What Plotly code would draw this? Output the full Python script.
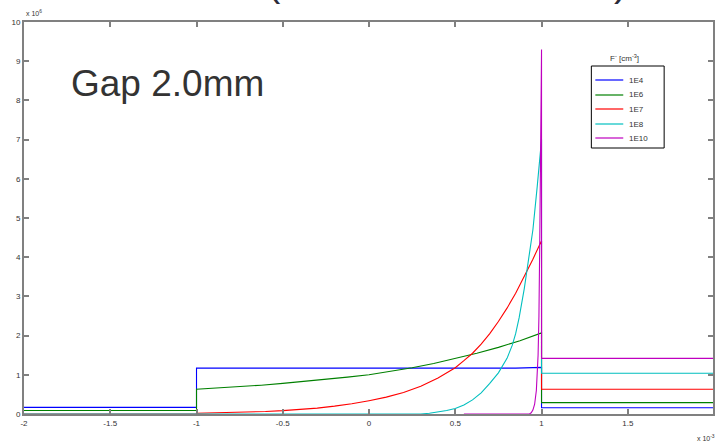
import plotly.graph_objects as go

# x in units of 1e-3, y in units of 1e6
blue_x = [-2, -1, -1, 0.85, 1, 1, 2]
blue_y = [0.17, 0.17, 1.17, 1.17, 1.19, 0.16, 0.16]

green_x = [-2, -1, -1, -0.875, -0.75, -0.625, -0.5, -0.375, -0.25, -0.125, 0, 0.125, 0.25,
           0.375, 0.5, 0.625, 0.75, 0.875, 1, 1, 2]
green_y = [0.09, 0.09, 0.63, 0.66, 0.69, 0.735, 0.78, 0.83, 0.88, 0.94, 1.0, 1.085, 1.18,
           1.29, 1.42, 1.55, 1.7, 1.87, 2.07, 0.29, 0.29]

red_x = [-2, -1, -1, -0.9, -0.8, -0.7, -0.6, -0.5, -0.4, -0.3, -0.2, -0.1, 0, 0.1, 0.2, 0.3,
         0.4, 0.5, 0.55, 0.6, 0.65, 0.7, 0.75, 0.8, 0.85, 0.9, 0.95, 1, 1, 2]
red_y = [0.0, 0.0, 0.02, 0.027, 0.036, 0.048, 0.064, 0.085, 0.11, 0.15, 0.2, 0.26, 0.34, 0.43,
         0.55, 0.71, 0.92, 1.18, 1.36, 1.55, 1.78, 2.05, 2.36, 2.7, 3.08, 3.5, 3.95, 4.42, 0.63, 0.63]

cyan_x = [-2, 0.3, 0.35, 0.4, 0.45, 0.5, 0.55, 0.6, 0.65, 0.7, 0.75, 0.8, 0.83, 0.85, 0.87,
          0.9, 0.925, 0.95, 0.975, 1.0, 1.0, 2.0]
cyan_y = [0, 0, 0.02, 0.05, 0.09, 0.14, 0.23, 0.36, 0.54, 0.78, 1.05, 1.42, 1.75, 2.05, 2.45,
          3.2, 3.9, 4.7, 5.8, 7.0, 1.04, 1.04]

mag_x = [0.55, 0.93, 0.94, 0.95, 0.96, 0.97, 0.98, 0.985, 0.99, 0.995, 1.0, 1.0, 2.0]
mag_y = [0, 0, 0.03, 0.1, 0.25, 0.6, 1.5, 2.5, 4.5, 8.2, 9.3, 1.42, 1.42]

names = ["1E4", "1E6", "1E7", "1E8", "1E10"]
colors = ["#0000ff", "#008000", "#ff0000", "#00bfbf", "#bf00bf"]
series = [(blue_x, blue_y), (green_x, green_y), (red_x, red_y), (cyan_x, cyan_y), (mag_x, mag_y)]

x_ticks = [-2, -1.5, -1, -0.5, 0, 0.5, 1, 1.5, 2]
y_ticks = list(range(0, 11))

fig = go.Figure()
for (xs, ys), n, c in zip(series, names, colors):
    fig.add_trace(go.Scatter(x=xs, y=ys, mode="lines", name=n,
                             line=dict(color=c, width=1.1)))

font = "Liberation Sans, Arial, sans-serif"
axis_common = dict(showgrid=False, zeroline=False, showline=True, linecolor="#808080",
                   linewidth=2, mirror="ticks", ticks="inside", ticklen=5, tickwidth=1.5,
                   tickcolor="#808080", tickfont=dict(size=8, color="#333333", family=font))
fig.update_xaxes(range=[-2, 1.994], tickvals=x_ticks, ticktext=[str(v) for v in x_ticks], **axis_common)
fig.update_yaxes(range=[0, 10], tickvals=y_ticks, **axis_common)

L, T, W, H = 24, 22, 691, 392
def px(xp):
    return (xp - L) / W
def py(yp):
    return (T + H - yp) / H

shapes = [dict(type="rect", xref="paper", yref="paper", x0=px(593), x1=px(666),
               y0=py(148), y1=py(66), line=dict(color="#000000", width=1),
               fillcolor="white", layer="above")]
annotations = [
    dict(text="Gap 2.0mm", xref="paper", yref="paper", x=px(168), y=py(83),
         xanchor="center", yanchor="middle", showarrow=False,
         font=dict(size=37, color="#333333", family=font)),
    dict(text="F<sup>-</sup> [cm<sup>-3</sup>]", xref="paper", yref="paper",
         x=px(626), y=py(58), xanchor="center", yanchor="middle", showarrow=False,
         font=dict(size=8, color="#333333", family=font)),
    dict(text="x 10<sup>6</sup>", xref="paper", yref="paper", x=px(24), y=py(13),
         xanchor="left", yanchor="middle", showarrow=False,
         font=dict(size=7, color="#333333", family=font)),
    dict(text="x 10<sup>-3</sup>", xref="paper", yref="paper", x=px(697), y=py(438),
         xanchor="left", yanchor="middle", showarrow=False,
         font=dict(size=7, color="#333333", family=font)),
    dict(text="(", xref="paper", yref="paper", x=px(275), y=py(6),
         xanchor="center", yanchor="bottom", showarrow=False,
         font=dict(size=40, color="#2b2b3a", family=font)),
    dict(text=")", xref="paper", yref="paper", x=px(622), y=py(6),
         xanchor="center", yanchor="bottom", showarrow=False,
         font=dict(size=40, color="#2b2b3a", family=font)),
]
entry_y = [80, 95, 109, 124, 138]
for n, c, ey in zip(names, colors, entry_y):
    shapes.append(dict(type="line", xref="paper", yref="paper", x0=px(597), x1=px(625),
                       y0=py(ey), y1=py(ey), line=dict(color=c, width=1.2), layer="above"))
    annotations.append(dict(text=n, xref="paper", yref="paper", x=px(629), y=py(ey),
                            xanchor="left", yanchor="middle", showarrow=False,
                            font=dict(size=8, color="#333333", family=font)))

fig.update_layout(
    width=715, height=446,
    margin=dict(l=L, r=715 - L - W, t=T, b=446 - T - H),
    paper_bgcolor="white", plot_bgcolor="white",
    showlegend=False,
    shapes=shapes,
    annotations=annotations,
)

fig.write_html("out.html")
